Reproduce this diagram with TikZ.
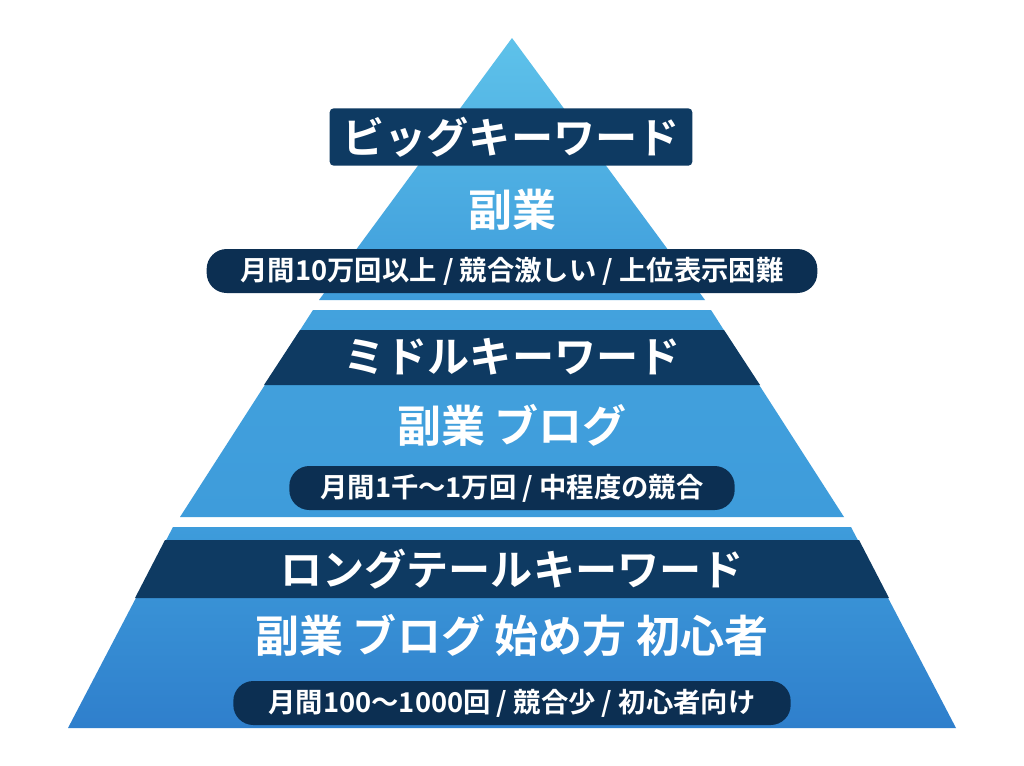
\documentclass[tikz,border=0pt]{standalone}
\usepackage{fontspec}
\newfontfamily\jp{Noto Sans CJK JP Bold}
\definecolor{navy}{HTML}{0E3A62}
\definecolor{pill}{HTML}{0C2F52}
\definecolor{ltop}{HTML}{5EC2EA}
\definecolor{lmid}{HTML}{3E9CDB}
\definecolor{lbot}{HTML}{2F7FCC}
\begin{document}
\begin{tikzpicture}[x=0.75pt,y=-0.75pt,
  head/.style={text=white,font=\jp\fontsize{31.6}{31.6}\selectfont},
  main/.style={text=white,font=\jp\fontsize{33}{33}\selectfont},
  pilltxt/.style={fill=pill,text=white,rounded corners=15pt,font=\jp\fontsize{20.5}{20.5}\selectfont,minimum height=33pt,inner xsep=10pt}]
\fill[white] (0,0) rectangle (1024,765);
\useasboundingbox (0,0) rectangle (1024,765);
% top triangle
\shade[top color=ltop,bottom color=lmid] (512,38) -- (319,300) -- (705,300) -- cycle;
% middle trapezoid
\shade[top color=lmid!85!ltop,bottom color=lmid] (313,310) -- (711,310) -- (844,517) -- (180,517) -- cycle;
\fill[navy] (300,330) -- (724,330) -- (760,385) -- (264,385) -- cycle;
% bottom trapezoid
\shade[top color=lmid,bottom color=lbot] (173,527) -- (851,527) -- (956,728) -- (68,728) -- cycle;
\fill[navy] (165,540) -- (859,540) -- (889,598) -- (135,598) -- cycle;
% top labels
\node[head,fill=navy,rounded corners=3pt,minimum width=272pt,minimum height=43pt] (t1) at (511,137) {ビッグキーワード};
\node[main] (t2) at (512,210) {副業};
\node[pilltxt,minimum width=458pt] (t3) at (512,271) {月間10万回以上 / 競合激しい / 上位表示困難};
% middle labels
\node[head] (m1) at (512,357) {ミドルキーワード};
\node[main] (m2) at (512,425) {副業 ブログ};
\node[pilltxt,minimum width=334pt] (m3) at (512,488) {月間1千〜1万回 / 中程度の競合};
% bottom labels
\node[head] (b1) at (512,569) {ロングテールキーワード};
\node[main] (b2) at (512,636) {副業 ブログ 始め方 初心者};
\node[pilltxt,minimum width=418pt] (b3) at (512,703) {月間100〜1000回 / 競合少 / 初心者向け};
\end{tikzpicture}
\end{document}
